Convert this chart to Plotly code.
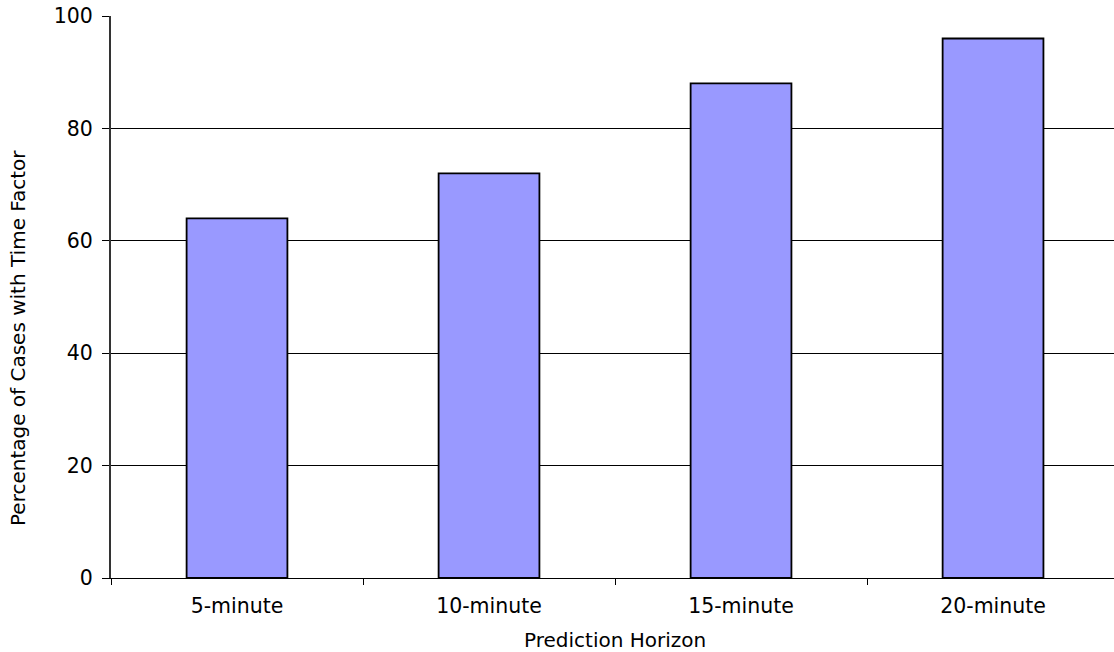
import plotly.graph_objects as go

# Share of cases in which the time factor mattered, by prediction horizon
horizons = ["5-minute", "10-minute", "15-minute", "20-minute"]
percent_cases = [64, 72, 88, 96]
y_ticks = [0, 20, 40, 60, 80, 100]

FONT = "DejaVu Sans"

fig = go.Figure(
    go.Bar(
        x=horizons,
        y=percent_cases,
        marker=dict(color="#9999FF", line=dict(color="#000000", width=1.8)),
        width=0.4,
        hoverinfo="x+y",
    )
)

fig.update_layout(
    width=1114,
    height=652,
    margin=dict(l=111, r=0, t=16, b=74),
    paper_bgcolor="white",
    plot_bgcolor="white",
    showlegend=False,
    font=dict(family=FONT, color="#000000"),
)

fig.update_xaxes(
    type="category",
    range=[-0.5, 3.48],
    showline=True,
    linecolor="#000000",
    linewidth=1,
    ticks="outside",
    tickson="boundaries",
    ticklen=6,
    tickcolor="#000000",
    tickfont=dict(size=20.5, family=FONT),
    ticklabelstandoff=9,
    showgrid=False,
)

fig.update_yaxes(
    range=[0, 100],
    tickvals=y_ticks,
    showline=True,
    linecolor="#333333",
    linewidth=2,
    ticks="outside",
    ticklen=7,
    tickcolor="#000000",
    tickfont=dict(size=20.5, family=FONT),
    ticklabelstandoff=5,
    showgrid=True,
    gridcolor="#000000",
    gridwidth=1,
    zeroline=False,
)

# Axis titles
fig.add_annotation(
    text="Prediction Horizon",
    xref="x", yref="paper",
    x=1.5, y=0,
    yshift=-62,
    showarrow=False,
    xanchor="center", yanchor="middle",
    font=dict(size=20, family=FONT, color="#000000"),
)
fig.add_annotation(
    text="Percentage of Cases with Time Factor",
    xref="paper", yref="paper",
    x=0, y=0.427,
    xshift=-93,
    textangle=-90,
    showarrow=False,
    xanchor="center", yanchor="middle",
    font=dict(size=20, family=FONT, color="#000000"),
)

fig.write_html("out.html")
